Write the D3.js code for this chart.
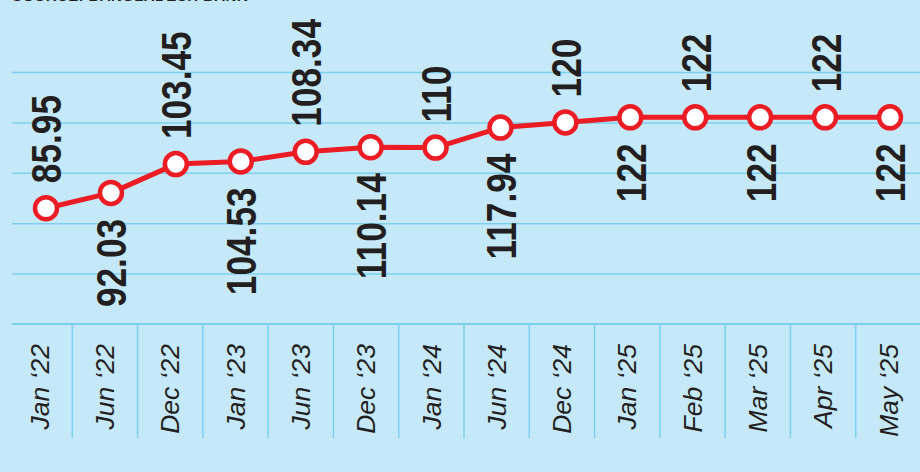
<!DOCTYPE html>
<html>
<head>
<meta charset="utf-8">
<script src="https://cdn.jsdelivr.net/npm/d3@7"></script>
<style>
  html, body { margin: 0; padding: 0; background: #c6e9f9; }
  svg { display: block; }
  .grid line { stroke: #7dcff0; stroke-width: 1.5; }
  .grid path { display: none; }
  .month-label { font-family: "Liberation Sans", sans-serif; font-style: italic; font-size: 26.5px; fill: #231f20; }
  .value-label { font-family: "Liberation Sans", sans-serif; font-weight: bold; font-size: 43px; fill: #231f20; }
  .source { font-family: "Liberation Sans", sans-serif; font-weight: bold; font-size: 15px; fill: #231f20; }
</style>
</head>
<body>
<svg class="chart"></svg>
<script>
var months = ["Jan \u201822", "Jun \u201822", "Dec \u201822", "Jan \u201823", "Jun \u201823", "Dec \u201823",
              "Jan \u201824", "Jun \u201824", "Dec \u201824", "Jan \u201825", "Feb \u201825", "Mar \u201825",
              "Apr \u201825", "May \u201825"];
var rates = [85.95, 92.03, 103.45, 104.53, 108.34, 110.14, 110, 117.94, 120, 122, 122, 122, 122, 122];
var rateLabels = ["85.95", "92.03", "103.45", "104.53", "108.34", "110.14", "110", "117.94", "120",
                  "122", "122", "122", "122", "122"];
var gridTicks = [60, 80, 100, 120, 140];
var yMin = 40;

var width = 920, height = 472;

var svg = d3.select(".chart")
    .attr("width", width)
    .attr("height", height);

svg.append("rect")
    .attr("width", width)
    .attr("height", height)
    .attr("fill", "#c6e9f9");

var y = d3.scaleLinear()
    .domain([40, 140])
    .range([324, 72]);

// points sit on their own spacing, labels on the column bands
var x = d3.scalePoint()
    .domain(months)
    .range([46, 890]);

var band = d3.scaleBand()
    .domain(months)
    .range([7, 921]);

// source line, mostly cut off at the top
svg.append("text")
    .attr("class", "source")
    .attr("x", 12)
    .attr("y", 0.5)
    .attr("letter-spacing", 0.4)
    .text("SOURCE: BANGLADESH BANK");

// horizontal grid
svg.append("g")
    .attr("class", "grid")
    .attr("transform", "translate(12,0)")
    .call(d3.axisRight(y).tickValues(gridTicks).tickSize(width).tickFormat(""));

// baseline
svg.append("line")
    .attr("x1", 12).attr("x2", width)
    .attr("y1", y(yMin)).attr("y2", y(yMin))
    .attr("stroke", "#7dcff0")
    .attr("stroke-width", 2);

// column separators
svg.selectAll(".sep")
    .data(months.slice(1))
    .enter().append("line")
    .attr("class", "sep")
    .attr("x1", function(d) { return band(d); })
    .attr("x2", function(d) { return band(d); })
    .attr("y1", y(yMin))
    .attr("y2", 438)
    .attr("stroke", "#7dcff0")
    .attr("stroke-width", 1.5);

// month labels
svg.selectAll(".month-label")
    .data(months)
    .enter().append("text")
    .attr("class", "month-label")
    .attr("transform", function(d) { return "translate(" + (band(d) + band.bandwidth() / 2) + ",344) rotate(-90)"; })
    .attr("text-anchor", "end")
    .attr("dy", "0.35em")
    .text(function(d) { return d; });

// line
var line = d3.line()
    .x(function(d, i) { return x(months[i]); })
    .y(function(d) { return y(d); });

svg.append("path")
    .datum(rates)
    .attr("d", line)
    .attr("fill", "none")
    .attr("stroke", "#ec1c24")
    .attr("stroke-width", 5)
    .attr("stroke-linejoin", "round");

svg.selectAll(".dot")
    .data(rates)
    .enter().append("circle")
    .attr("class", "dot")
    .attr("cx", function(d, i) { return x(months[i]); })
    .attr("cy", function(d) { return y(d); })
    .attr("r", 11)
    .attr("fill", "#fff")
    .attr("stroke", "#ec1c24")
    .attr("stroke-width", 4.5);

// value labels alternate above / below, condensed bold
svg.selectAll(".value-label")
    .data(rates)
    .enter().append("text")
    .attr("class", "value-label")
    .attr("transform", function(d, i) {
        var py = y(d) + (i % 2 == 0 ? -25 : 26);
        return "translate(" + x(months[i]) + "," + py + ") rotate(-90) scale(0.82,1)";
    })
    .attr("text-anchor", function(d, i) { return i % 2 == 0 ? "start" : "end"; })
    .attr("dy", "0.36em")
    .text(function(d, i) { return rateLabels[i]; });
</script>
</body>
</html>
